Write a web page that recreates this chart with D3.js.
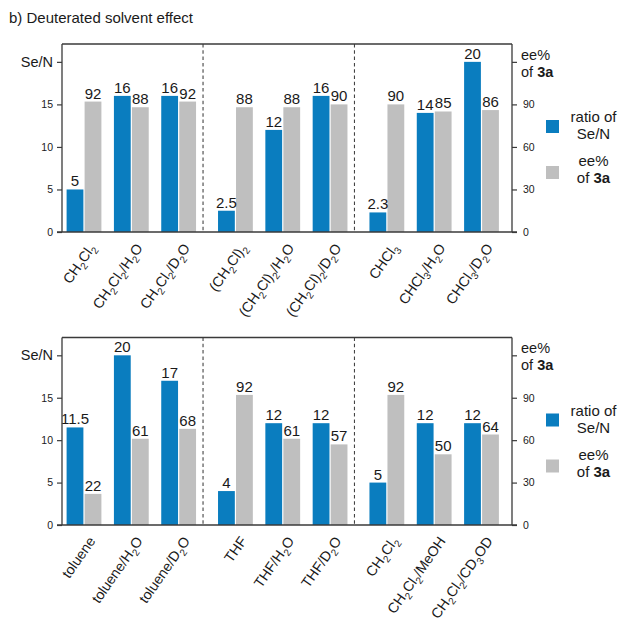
<!DOCTYPE html>
<html>
<head>
<meta charset="utf-8">
<script src="https://cdn.jsdelivr.net/npm/d3@7/dist/d3.min.js"></script>
<style>
  html, body { margin: 0; padding: 0; background: #fff; }
  svg { display: block; font-family: "Liberation Sans", Arial, sans-serif; }
</style>
</head>
<body>
<svg id="chart" width="618" height="622"></svg>
<script>
// Solvent screening, upper panel: chlorinated solvents with H2O / D2O additives
const topCategories = ["CH2Cl2", "CH2Cl2/H2O", "CH2Cl2/D2O",
                       "(CH2Cl)2", "(CH2Cl)2/H2O", "(CH2Cl)2/D2O",
                       "CHCl3", "CHCl3/H2O", "CHCl3/D2O"];
const topRatio = [5, 16, 16, 2.5, 12, 16, 2.3, 14, 20];
const topEe    = [92, 88, 92, 88, 88, 90, 90, 85, 86];

// Lower panel: toluene, THF and CH2Cl2 with protic / deuterated additives
const bottomCategories = ["toluene", "toluene/H2O", "toluene/D2O",
                          "THF", "THF/H2O", "THF/D2O",
                          "CH2Cl2", "CH2Cl2/MeOH", "CH2Cl2/CD3OD"];
const bottomRatio = [11.5, 20, 17, 4, 12, 12, 5, 12, 12];
const bottomEe    = [22, 61, 68, 92, 61, 57, 92, 50, 64];

// Axis ticks (the top tick carries the axis title)
const leftTicks  = [0, 5, 10, 15, 20];
const rightTicks = [0, 30, 60, 90, 120];

const BLUE = "#0a7dbf";
const GRAY = "#bfbfbf";
const AXIS = "#3a3a3a";
const INK  = "#1a1a1a";

const svg = d3.select("#chart");

svg.append("text")
  .attr("x", 9).attr("y", 23)
  .attr("font-size", 15).attr("fill", INK)
  .text("b) Deuterated solvent effect");

// digits inside solvent formulas are drawn as subscripts
function formula(sel, str, size) {
  const parts = str.match(/\d+|\D+/g);
  let sub = false;
  parts.forEach(p => {
    const isNum = /^\d+$/.test(p);
    const t = sel.append("tspan").text(p);
    if (isNum) {
      t.attr("font-size", size * 0.7).attr("dy", sub ? 0 : size * 0.28);
      sub = true;
    } else {
      if (sub) t.attr("dy", -size * 0.28);
      sub = false;
    }
  });
}

function panel(categories, ratio, ee, top, base) {
  const g = svg.append("g");
  const left = 62, right = 512;
  const groupGap = 0.2;

  const pos = categories.map((c, i) => i + Math.floor(i / 3) * groupGap);
  const x = d3.scaleLinear().domain([0, pos[pos.length - 1]]).range([84, 481.5]);
  const y = d3.scaleLinear().domain([0, 22.1]).range([base, top]);
  const yR = d3.scaleLinear().domain([0, 22.1 * 6]).range([base, top]);

  const barW = 16.8, inner = 0.6;

  // bars
  g.selectAll("rect.ratio").data(ratio).join("rect")
    .attr("class", "ratio")
    .attr("x", (d, i) => x(pos[i]) - inner - barW)
    .attr("width", barW)
    .attr("y", d => y(d))
    .attr("height", d => base - y(d))
    .attr("fill", BLUE);

  g.selectAll("rect.ee").data(ee).join("rect")
    .attr("class", "ee")
    .attr("x", (d, i) => x(pos[i]) + inner)
    .attr("width", barW)
    .attr("y", d => yR(d))
    .attr("height", d => base - yR(d))
    .attr("fill", GRAY);

  // value labels
  g.selectAll("text.vr").data(ratio).join("text")
    .attr("class", "vr")
    .attr("x", (d, i) => x(pos[i]) - inner - barW / 2)
    .attr("y", d => y(d) - 3)
    .attr("text-anchor", "middle").attr("font-size", 15).attr("fill", INK)
    .text(d => d);

  g.selectAll("text.ve").data(ee).join("text")
    .attr("class", "ve")
    .attr("x", (d, i) => x(pos[i]) + inner + barW / 2)
    .attr("y", d => yR(d) - 3)
    .attr("text-anchor", "middle").attr("font-size", 15).attr("fill", INK)
    .text(d => d);

  // group separators
  [2, 5].forEach(i => {
    const xs = x((pos[i] + pos[i + 1]) / 2) - 4;
    g.append("line")
      .attr("x1", xs).attr("x2", xs).attr("y1", top).attr("y2", base)
      .attr("stroke", "#444").attr("stroke-width", 1.1)
      .attr("stroke-dasharray", "3.5,2.8");
  });

  // frame: top border
  g.append("line").attr("x1", left).attr("x2", right).attr("y1", top).attr("y2", top)
    .attr("stroke", AXIS).attr("stroke-width", 1.3);

  // left axis
  const la = g.append("g").attr("transform", `translate(${left},0)`)
    .call(d3.axisLeft(y).tickValues(leftTicks).tickSize(5).tickPadding(4)
      .tickFormat(d => d === 20 ? "" : d));
  la.select(".domain").attr("d", `M0,${top}V${base}`).attr("stroke", AXIS).attr("stroke-width", 1.3);
  la.selectAll(".tick line").attr("stroke", AXIS).attr("stroke-width", 1.2);
  la.selectAll(".tick text").attr("font-size", 10.5).attr("fill", INK)
    .attr("font-family", "Liberation Sans, Arial, sans-serif");
  g.append("text").attr("x", left - 9).attr("y", y(20) + 5)
    .attr("text-anchor", "end").attr("font-size", 14.5).attr("fill", INK).text("Se/N");

  // right axis
  const ra = g.append("g").attr("transform", `translate(${right},0)`)
    .call(d3.axisRight(yR).tickValues(rightTicks).tickSize(5).tickPadding(6)
      .tickFormat(d => d === 120 ? "" : d));
  ra.select(".domain").attr("d", `M0,${top}V${base}`).attr("stroke", AXIS).attr("stroke-width", 1.3);
  ra.selectAll(".tick line").attr("stroke", AXIS).attr("stroke-width", 1.2);
  ra.selectAll(".tick text").attr("font-size", 10.5).attr("fill", INK)
    .attr("font-family", "Liberation Sans, Arial, sans-serif");
  const rt = g.append("text").attr("x", right + 9).attr("font-size", 14.5).attr("fill", INK);
  rt.append("tspan").attr("x", right + 9).attr("y", yR(120) - 2).text("ee%");
  const l2 = rt.append("tspan").attr("x", right + 9).attr("y", yR(120) + 15);
  l2.append("tspan").text("of ");
  l2.append("tspan").attr("font-weight", "bold").text("3a");

  // baseline
  g.append("line").attr("x1", left - 5).attr("x2", right + 5).attr("y1", base).attr("y2", base)
    .attr("stroke", AXIS).attr("stroke-width", 1.3);

  // category labels, rotated
  categories.forEach((c, i) => {
    const holder = g.append("g")
      .attr("transform", "translate(" + (x(pos[i]) + 12) + "," + (base + 16) + ") rotate(-55)");
    const t = holder.append("text")
      .attr("x", 0).attr("y", 0)
      .attr("text-anchor", "end").attr("font-size", 14.2).attr("fill", INK);
    formula(t, c, 14.2);
  });

  // legend
  const lg = g.append("g");
  const ly = top + 76;
  lg.append("rect").attr("x", 546).attr("y", ly).attr("width", 13).attr("height", 13).attr("fill", BLUE);
  lg.append("text").attr("x", 593.5).attr("y", ly + 2).attr("text-anchor", "middle")
    .attr("font-size", 15).attr("fill", INK).text("ratio of");
  lg.append("text").attr("x", 593.5).attr("y", ly + 19).attr("text-anchor", "middle")
    .attr("font-size", 15).attr("fill", INK).text("Se/N");
  lg.append("rect").attr("x", 546).attr("y", ly + 46).attr("width", 13).attr("height", 13).attr("fill", GRAY);
  lg.append("text").attr("x", 593.5).attr("y", ly + 46).attr("text-anchor", "middle")
    .attr("font-size", 15).attr("fill", INK).text("ee%");
  const lt = lg.append("text").attr("x", 593.5).attr("y", ly + 63).attr("text-anchor", "middle")
    .attr("font-size", 15).attr("fill", INK);
  lt.append("tspan").text("of ");
  lt.append("tspan").attr("font-weight", "bold").text("3a");
}

panel(topCategories, topRatio, topEe, 44, 232);
panel(bottomCategories, bottomRatio, bottomEe, 337.5, 525);
</script>
</body>
</html>
